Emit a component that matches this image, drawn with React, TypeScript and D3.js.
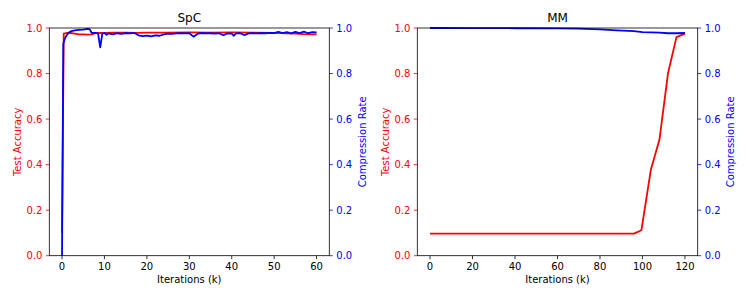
import * as d3 from "d3";

// SpC panel
const spcAccIter = [0, 0.4, 1, 2, 3, 4, 5, 6, 7, 8, 10, 12, 15, 18, 20, 25, 30, 35, 40, 45, 50, 53, 55, 57, 60];
const spcAcc = [0.1, 0.975, 0.978, 0.978, 0.975, 0.972, 0.972, 0.971, 0.972, 0.978, 0.979, 0.98, 0.98, 0.979, 0.98, 0.98, 0.981, 0.98, 0.981, 0.98, 0.979, 0.976, 0.975, 0.973, 0.972];

const spcRateIter = [
  0, 0.3, 0.6, 1, 1.5, 2, 3, 4, 5, 6, 6.5, 7, 8, 8.5, 9, 9.5, 10, 10.5, 11, 12, 13, 14, 15, 16, 17, 18, 19, 20,
  21, 22, 23, 24, 25, 26, 27, 28, 29, 30, 31, 32, 33, 34, 35, 36, 37, 38, 39, 40, 40.5, 41, 42, 43, 44, 45, 46,
  47, 48, 49, 50, 51, 52, 53, 54, 55, 56, 57, 58, 59, 60,
];
const spcRate = [
  0, 0.93, 0.95, 0.965, 0.978, 0.985, 0.99, 0.992, 0.993, 0.996, 0.995, 0.978, 0.978, 0.975, 0.915, 0.975, 0.978,
  0.97, 0.976, 0.972, 0.977, 0.974, 0.978, 0.976, 0.979, 0.968, 0.964, 0.967, 0.963, 0.968, 0.966, 0.972, 0.975,
  0.974, 0.976, 0.977, 0.976, 0.977, 0.962, 0.975, 0.978, 0.976, 0.977, 0.975, 0.977, 0.968, 0.976, 0.975, 0.966,
  0.976, 0.977, 0.969, 0.976, 0.977, 0.976, 0.978, 0.977, 0.979, 0.978, 0.983, 0.978, 0.982, 0.976, 0.983, 0.978,
  0.984, 0.977, 0.982, 0.981,
];

// MM panel
const mmAccIter = [0, 20, 40, 60, 80, 96, 99.5, 104, 108, 112, 116, 120];
const mmAcc = [0.097, 0.097, 0.097, 0.097, 0.097, 0.097, 0.112, 0.38, 0.51, 0.8, 0.96, 0.975];
const mmRateIter = [0, 20, 40, 60, 70, 80, 88, 96, 100, 104, 108, 112, 116, 120];
const mmRate = [1.0, 0.9995, 0.999, 0.998, 0.997, 0.994, 0.99, 0.986, 0.982, 0.981, 0.98, 0.977, 0.977, 0.978];

const yTicks = [0, 0.2, 0.4, 0.6, 0.8, 1.0];
const spcXTicks = [0, 10, 20, 30, 40, 50, 60];
const mmXTicks = [0, 20, 40, 60, 80, 100, 120];

const W = 747;
const H = 299;
const TOP = 28;
const BOTTOM = 255.7;
const FONT = "DejaVu Sans, sans-serif";
const RED = "#ff0000";
const BLUE = "#0000ff";

type PanelProps = {
  title: string;
  left: number;
  right: number;
  domain: [number, number];
  xTicks: number[];
  accIter: number[];
  acc: number[];
  rateIter: number[];
  rate: number[];
};

function Panel({ title, left, right, domain, xTicks, accIter, acc, rateIter, rate }: PanelProps) {
  const x = d3.scaleLinear().domain(domain).range([left, right]);
  const y = d3.scaleLinear().domain([0, 1]).range([BOTTOM, TOP]);
  const line = d3
    .line<[number, number]>()
    .x((d) => x(d[0]))
    .y((d) => y(d[1]));
  const accPts = accIter.map((it, i) => [it, acc[i]] as [number, number]);
  const ratePts = rateIter.map((it, i) => [it, rate[i]] as [number, number]);
  const fmt = d3.format(".1f");
  const midY = (TOP + BOTTOM) / 2;

  return (
    <g fontFamily={FONT}>
      <path d={line(accPts) ?? ""} fill="none" stroke={RED} strokeWidth={1.8} strokeLinejoin="round" />
      <path d={line(ratePts) ?? ""} fill="none" stroke={BLUE} strokeWidth={1.8} strokeLinejoin="round" />

      <rect x={left} y={TOP} width={right - left} height={BOTTOM - TOP} fill="none" stroke="#000" strokeWidth={0.8} />

      {/* left axis (accuracy) */}
      {yTicks.map((t) => (
        <g key={`l${t}`}>
          <line x1={left - 3.5} x2={left} y1={y(t)} y2={y(t)} stroke={RED} strokeWidth={0.8} />
          <text x={left - 7} y={y(t)} dy="0.35em" textAnchor="end" fontSize={10} fill={RED}>
            {fmt(t)}
          </text>
        </g>
      ))}
      {/* right axis (compression rate) */}
      {yTicks.map((t) => (
        <g key={`r${t}`}>
          <line x1={right} x2={right + 3.5} y1={y(t)} y2={y(t)} stroke={BLUE} strokeWidth={0.8} />
          <text x={right + 7} y={y(t)} dy="0.35em" textAnchor="start" fontSize={10} fill={BLUE}>
            {fmt(t)}
          </text>
        </g>
      ))}
      {/* bottom axis */}
      {xTicks.map((t) => (
        <g key={`x${t}`}>
          <line x1={x(t)} x2={x(t)} y1={BOTTOM} y2={BOTTOM + 3.5} stroke="#000" strokeWidth={0.8} />
          <text x={x(t)} y={BOTTOM + 14.5} textAnchor="middle" fontSize={10} fill="#000">
            {t}
          </text>
        </g>
      ))}

      <text x={(left + right) / 2} y={BOTTOM + 27.5} textAnchor="middle" fontSize={10} fill="#000">
        Iterations (k)
      </text>
      <text x={(left + right) / 2} y={21.7} textAnchor="middle" fontSize={12} fill="#000">
        {title}
      </text>
      <text
        transform={`translate(${left - 28.6},${midY}) rotate(-90)`}
        textAnchor="middle"
        fontSize={10}
        fill={RED}
      >
        Test Accuracy
      </text>
      <text
        transform={`translate(${right + 36.7},${midY}) rotate(-90)`}
        textAnchor="middle"
        fontSize={10}
        fill={BLUE}
      >
        Compression Rate
      </text>
    </g>
  );
}

export default function App() {
  return (
    <svg
      width={W}
      height={H}
      viewBox={`0 0 ${W} ${H}`}
      style={{ position: "absolute", left: 0, top: 0, background: "#fff" }}
    >
      <Panel
        title="SpC"
        left={49.3}
        right={329.3}
        domain={[-3, 63]}
        xTicks={spcXTicks}
        accIter={spcAccIter}
        acc={spcAcc}
        rateIter={spcRateIter}
        rate={spcRate}
      />
      <Panel
        title="MM"
        left={417.3}
        right={697.7}
        domain={[-6, 126]}
        xTicks={mmXTicks}
        accIter={mmAccIter}
        acc={mmAcc}
        rateIter={mmRateIter}
        rate={mmRate}
      />
    </svg>
  );
}
